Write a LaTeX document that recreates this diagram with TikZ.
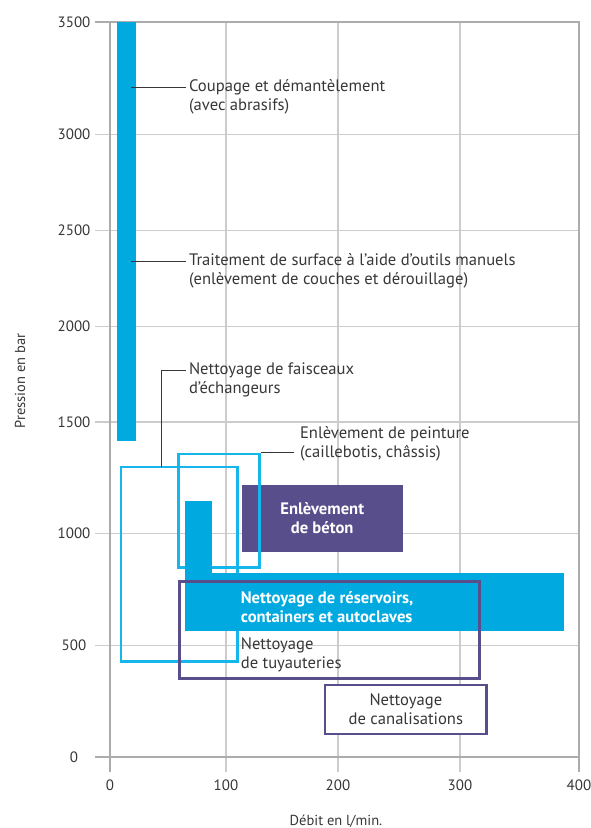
\documentclass[tikz,border=0pt]{standalone}
\usepackage{fontspec}
\setmainfont{PT Sans}
\usetikzlibrary{fit}
\definecolor{barcyan}{RGB}{0,169,224}
\definecolor{boxcyan}{RGB}{20,182,236}
\definecolor{barpurple}{RGB}{88,78,140}
\definecolor{txtgray}{RGB}{55,55,55}
\tikzset{
  gridline/.style={draw=gray!40, line width=1.2pt},
  frameline/.style={draw=gray!65, line width=1.5pt},
  leader/.style={draw=txtgray, line width=1pt},
  barbox/.style={fill=barcyan, inner sep=0pt},
  cyanbox/.style={draw=boxcyan, line width=2.6pt, inner sep=0pt},
  purplebox/.style={draw=barpurple, line width=2.6pt, inner sep=0pt},
  darkbox/.style={fill=barpurple, inner sep=0pt},
  LabelText/.style={text=txtgray, align=left, font=\fontsize{16.6}{19}\selectfont},
  InText/.style={text=white, align=center, font=\bfseries\fontsize{16.6}{19}\selectfont},
  TickText/.style={text=txtgray, font=\fontsize{15}{18}\selectfont},
}

\begin{document}
\begin{tikzpicture}[x=1pt,y=-1pt]
        \useasboundingbox (0,0) rectangle (591,828);
        % grid and frame
        \foreach \gx in {226,338,460}
            \draw[gridline] (\gx,22) -- (\gx,772);
        \foreach \gy in {134.7,230.3,326.3,422,533.3,645.3}
            \draw[gridline] (95,\gy) -- (579,\gy);
        \draw[frameline] (95,22) -- (579,22) -- (579,772);
        \draw[frameline] (110,22) -- (110,772);
        \draw[frameline] (95,757) -- (579,757);
        \foreach \gy/\v in {757/0,645.3/500,533.3/1000,422/1500,326.3/2000,230.3/2500,134.7/3000,22/3500}
            \node[TickText] (ty\v) at (74,\gy) {\v};
        \foreach \gx/\v in {110/0,226/100,338/200,460/300,579/400}
            \node[TickText] (tx\v) at (\gx,785) {\v};
        \node[TickText, font=\fontsize{14.5}{17}\selectfont] (xtitle) at (336,821) {Débit en l/min.};
        \node[TickText, font=\fontsize{14.5}{17}\selectfont, rotate=90] (ytitle) at (20,381) {Pression en bar};
        % high pressure bar
        \node[barbox, fit={(117,22)(136,441)}] (cut) {};
        \coordinate (cutA) at (131,87);
        \coordinate (surfA) at (131,261.7);
        \node[LabelText, anchor=west] (cutLbl) at (185.5,96.5) {Coupage et démantèlement\\(avec abrasifs)};
        \node[LabelText, anchor=west] (surfLbl) at (185.5,271.3) {Traitement de surface à l’aide d’outils manuels\\(enlèvement de couches et dérouillage)};
        \draw[leader] (cutA) -- (cutA -| cutLbl.west);
        \draw[leader] (surfA) -- (surfA -| surfLbl.west);
        % boxes
        \node[cyanbox, fit={(121,467)(237.3,661.7)}] (faisc) {};
        \coordinate (faiscA) at (161.7,467);
        \node[LabelText, anchor=west] (faiscLbl) at (185.5,380) {Nettoyage de faisceaux\\d’échangeurs};
        \draw[leader] (faiscA) |- ([yshift=9.5pt]faiscLbl.west);
        \node[darkbox, fit={(241.7,485)(402.7,551.7)}] (beton) {};
        \node[InText] (betonTxt) at (beton.center) {Enlèvement\\de béton};
        \node[cyanbox, fit={(178.3,454)(259.7,567.3)}] (peint) {};
        \node[LabelText, anchor=west] (peintLbl) at (296.5,443.8) {Enlèvement de peinture\\(caillebotis, châssis)};
        \draw[leader] (peint.north east) -- ([xshift=-3pt]peint.north east -| peintLbl.west);
        \node[barbox, fit={(185,500.7)(212.3,573)}] (resTop) {};
        \node[barbox, fit={(185,572.5)(563.7,631)}] (res) {};
        \node[InText, align=left, anchor=west] (resTxt) at (237.3,607.2) {Nettoyage de réservoirs,\\containers et autoclaves};
        \node[purplebox, fit={(179.3,581.7)(479.3,678.3)}] (tuyau) {};
        \node[LabelText, anchor=west] (tuyauTxt) at (237.3,654.8) {Nettoyage\\de tuyauteries};
        \node[purplebox, fill=white, fit={(325,685)(486.7,734)}] (canal) {};
        \node[LabelText, align=center] (canalTxt) at (canal.center) {Nettoyage\\de canalisations};
\end{tikzpicture}
\end{document}
